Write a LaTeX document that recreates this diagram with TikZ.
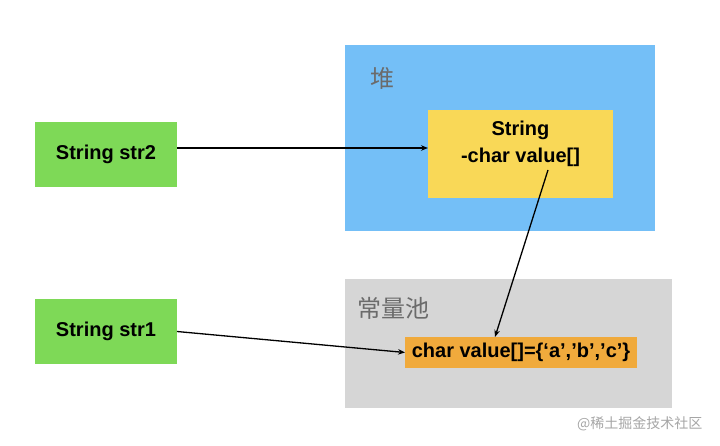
\documentclass[tikz,border=0pt]{standalone}
\usepackage{fontspec}
\setmainfont{Liberation Sans}
\newfontfamily\cjk{Noto Sans CJK SC}
\usetikzlibrary{arrows.meta}
\definecolor{heapblue}{HTML}{74BFF7}
\definecolor{objyellow}{HTML}{F9D857}
\definecolor{poolgray}{HTML}{D6D6D6}
\definecolor{arrorange}{HTML}{F0AA3C}
\definecolor{refgreen}{HTML}{7ED957}
\definecolor{labgray}{HTML}{6B6B6B}
\tikzset{
  box/.style={inner sep=0pt, outer sep=0pt, align=center, font=\bfseries\fontsize{20}{27}\selectfont},
  area/.style={inner sep=0pt, outer sep=0pt},
  arr/.style={-{Stealth[length=7pt,width=5.5pt]}, line width=1.3pt, black},
  zone/.style={font=\cjk\fontsize{24}{28}\selectfont, text=labgray}
}
\begin{document}
\begin{tikzpicture}[x=1pt,y=-1pt]
\useasboundingbox (0,0) rectangle (720,446);
\fill[white] (0,0) rectangle (720,446);
% areas
\node[area, fill=heapblue, minimum width=310, minimum height=186, anchor=north west] (heap) at (345,45) {};
\node[area, fill=poolgray, minimum width=327, minimum height=129, anchor=north west] (pool) at (345,279) {};
\node[zone] (heaplab) at (382,78) {堆};
\node[zone] (poollab) at (393,308) {常量池};
% nodes
\node[box, fill=refgreen, minimum width=142, minimum height=65] (str2) at (106,154.5) {String str2};
\node[box, fill=refgreen, minimum width=142, minimum height=65] (str1) at (106,331.5) {String str1};
\node[area, fill=objyellow, minimum width=185, minimum height=88] (obj) at (520.5,154) {};
\node[box] (objtext) at (520.5,144) {String\\-char value[]};
\node[box, fill=arrorange, minimum width=232, minimum height=31] (arr) at (521,352.5) {char value[]=\{‘a’,’b’,’c’\}};
% connectors
\coordinate (objsrc) at ([xshift=27.5,yshift=-16]obj.center);
\draw[arr] ([yshift=6.5]str2.east) -- ([yshift=6]obj.west);
\draw[arr] (str1.east) -- (arr.west);
\draw[arr] (objsrc) -- ([xshift=-26]arr.north);
% watermark
\node[font=\cjk\fontsize{14}{16}\selectfont, text=black!35, anchor=east] (wm) at (706,424) {@稀土掘金技术社区};
\end{tikzpicture}
\end{document}
